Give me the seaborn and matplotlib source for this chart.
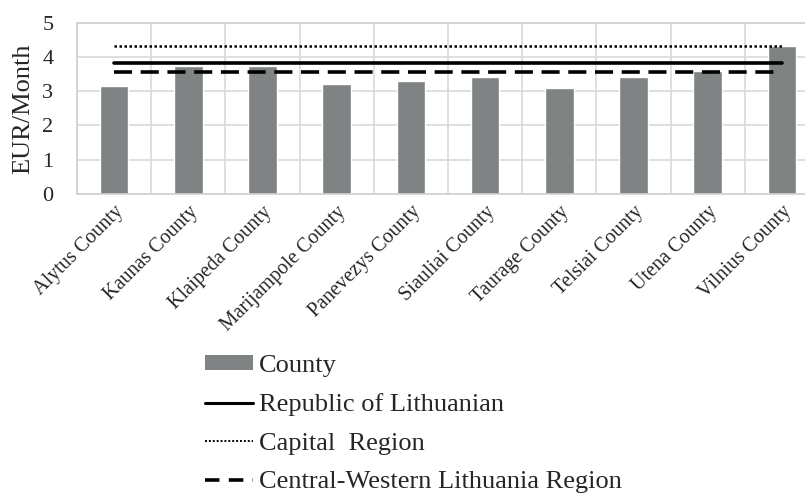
import matplotlib
matplotlib.use("Agg")
import matplotlib.pyplot as plt
import seaborn as sns
import pandas as pd
import numpy as np
from matplotlib.patches import Patch
from matplotlib.lines import Line2D

counties = ["Alytus County", "Kaunas County", "Klaipeda County", "Marijampole County",
            "Panevezys County", "Siauliai County", "Taurage County", "Telsiai County",
            "Utena County", "Vilnius County"]
county_values = [3.15, 3.73, 3.75, 3.22, 3.31, 3.42, 3.10, 3.42, 3.59, 4.33]
republic_value = 3.82
capital_value = 4.32
central_western_value = 3.55
y_ticks = [0, 1, 2, 3, 4, 5]

df = pd.DataFrame({
    "county": counties,
    "value": county_values,
    "republic": [republic_value] * len(counties),
    "capital": [capital_value] * len(counties),
    "central": [central_western_value] * len(counties),
})

sns.set_theme(style="white")
plt.rcParams["font.family"] = ["Liberation Serif", "DejaVu Serif"]

fig = plt.figure(figsize=(8.05, 4.99), dpi=100)
ax = fig.add_axes([77 / 805, 1 - 194 / 499, 742 / 805, 171.3 / 499])

bar_color = "#7f8383"
sns.barplot(data=df, x="county", y="value", color=bar_color, width=0.385,
            saturation=1, ax=ax, zorder=2)
sns.pointplot(data=df, x="county", y="capital", color="black", marker="",
              linestyle=(0, (1, 1)), linewidth=1.8, errorbar=None, ax=ax)
sns.pointplot(data=df, x="county", y="republic", color="black", marker="",
              linestyle="-", linewidth=2.6, errorbar=None, ax=ax)
sns.pointplot(data=df, x="county", y="central", color="black", marker="",
              linestyle=(0, (5, 2.4)), linewidth=2.6, errorbar=None, ax=ax)
for ln in ax.lines:
    ln.set_zorder(3)

ax.set_xlim(-0.5, 9.5)
ax.set_ylim(0, 5)
ax.set_yticks(y_ticks)
ax.set_yticklabels([str(t) for t in y_ticks], fontsize=16)
ax.set_xticks(range(len(counties)))
ax.set_xticklabels(counties, rotation=45, ha="right", rotation_mode="anchor",
                   fontsize=14.5)
ax.set_xticks(np.arange(-0.5, len(counties), 1), minor=True)
ax.tick_params(axis="both", which="both", length=0)
ax.tick_params(axis="y", pad=17)
ax.tick_params(axis="x", pad=6)
ax.grid(axis="y", which="major", color="#d9d9d9", linewidth=1.2, zorder=0)
ax.grid(axis="x", which="minor", color="#d9d9d9", linewidth=1.2, zorder=0)
ax.grid(axis="x", which="major", visible=False)
ax.set_axisbelow(True)
for s in ax.spines.values():
    s.set_color("#d0d0d0")
    s.set_linewidth(1.2)
ax.set_xlabel("")
ax.set_ylabel("EUR/Month", fontsize=19)
ax.yaxis.set_label_coords(-0.058, 0.5)

handles = [
    Patch(facecolor=bar_color, edgecolor="none"),
    Line2D([], [], color="black", linewidth=2.2, linestyle="-"),
    Line2D([], [], color="black", linewidth=1.4, linestyle=(0, (1, 1))),
    Line2D([], [], color="black", linewidth=2.6, linestyle=(0, (4, 2.6))),
]
labels = ["County", "Republic of Lithuanian", "Capital  Region",
          "Central-Western Lithuania Region"]
fig.legend(handles, labels, loc="upper left", bbox_to_anchor=(205 / 805, 1 - 355 / 499),
           frameon=False, fontsize=19, handlelength=1.82, handleheight=0.5,
           handletextpad=0.23, labelspacing=0.62, borderaxespad=0, borderpad=0)

fig.savefig("out.png", dpi=100)
